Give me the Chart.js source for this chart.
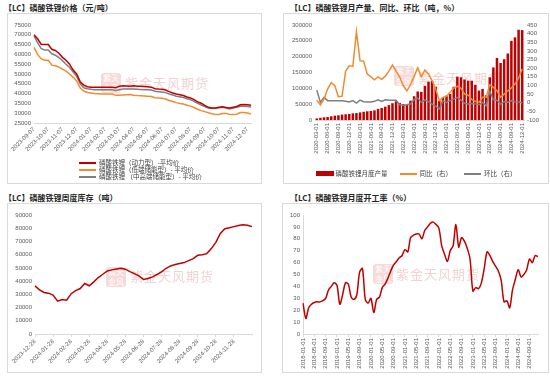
<!DOCTYPE html>
<html>
<head>
<meta charset="utf-8">
<script src="https://cdn.jsdelivr.net/npm/chart.js@4.4.1/dist/chart.umd.min.js"></script>
<style>
  body { margin: 0; width: 550px; height: 376px; background: #fff; position: relative; overflow: hidden;
         font-family: "Noto Sans CJK SC", "Noto Sans", sans-serif; }
  .title { position: absolute; font-size: 8px; font-weight: bold; color: #262626; white-space: nowrap; }
  .box { position: absolute; border: 1px solid #d9d9d9; box-sizing: border-box; }
  .box canvas { position: absolute; left: 0; top: 0; }
  .wm { position: absolute; font-size: 13px; color: #f2d3d3; white-space: nowrap; letter-spacing: 1px; }
  .seal { position: absolute; width: 20px; height: 20px; background: #f6d9d9; color: #fff; font-size: 8px;
          line-height: 10px; text-align: center; border-radius: 3px; }
  .lg { position: absolute; font-size: 6.5px; line-height: 7px; color: #404040; white-space: nowrap; }
  .lg span.ln { display: inline-block; width: 17px; height: 2px; vertical-align: middle; margin-right: 3px; }
  .lg span.bx { display: inline-block; width: 18px; height: 5px; vertical-align: middle; margin-right: 2px; }
  .row { display: flex; align-items: center; height: 7px; }
</style>
</head>
<body>

<div class="title" style="left:4px;top:2px">【LC】磷酸铁锂价格（元/吨）</div>
<div class="title" style="left:290px;top:2px">【LC】磷酸铁锂月产量、同比、环比（吨，%）</div>
<div class="title" style="left:4px;top:192px">【LC】磷酸铁锂周度库存（吨）</div>
<div class="title" style="left:290px;top:192px">【LC】磷酸铁锂月度开工率（%）</div>

<div class="box" style="left:7px;top:13px;width:255px;height:171px">
  <div class="seal" style="left:93px;top:59px">紫天<br>金风</div>
  <div class="wm" style="left:117px;top:59px">紫金天风期货</div>
  <canvas id="c1" width="253" height="169"></canvas>
  <div class="lg" id="lg1" style="left:71px;top:145px"></div>
</div>
<div class="box" style="left:283px;top:13px;width:266px;height:171px">
  <div class="seal" style="left:110px;top:52px">紫天<br>金风</div>
  <div class="wm" style="left:134px;top:54px">紫金天风期货</div>
  <canvas id="c2" width="264" height="169"></canvas>
  <div class="lg" id="lg2" style="left:0;width:264px;top:156px;display:flex;justify-content:center"></div>
</div>
<div class="box" style="left:7px;top:203px;width:255px;height:170px">
  <div class="seal" style="left:98px;top:63px">紫天<br>金风</div>
  <div class="wm" style="left:122px;top:62px">紫金天风期货</div>
  <canvas id="c3" width="253" height="168"></canvas>
</div>
<div class="box" style="left:282px;top:203px;width:267px;height:170px">
  <div class="seal" style="left:90px;top:60px">紫天<br>金风</div>
  <div class="wm" style="left:113px;top:60px">紫金天风期货</div>
  <canvas id="c4" width="265" height="168"></canvas>
</div>

<script>
// ---- 磷酸铁锂价格 (元/吨)
const priceDates = [
  '2023-09-07','2023-09-14','2023-09-21','2023-09-28','2023-10-07','2023-10-14','2023-10-21','2023-10-28',
  '2023-11-07','2023-11-14','2023-11-21','2023-11-28','2023-12-07','2023-12-14','2023-12-21','2023-12-28',
  '2024-01-07','2024-01-14','2024-01-21','2024-01-28','2024-02-07','2024-02-14','2024-02-21','2024-02-28',
  '2024-03-07','2024-03-14','2024-03-21','2024-03-28','2024-04-07','2024-04-14','2024-04-21','2024-04-28',
  '2024-05-07','2024-05-14','2024-05-21','2024-05-28','2024-06-07','2024-06-14','2024-06-21','2024-06-28',
  '2024-07-07','2024-07-14','2024-07-21','2024-07-28','2024-08-07','2024-08-14','2024-08-21','2024-08-28',
  '2024-09-07','2024-09-14','2024-09-21','2024-09-28','2024-10-07','2024-10-14','2024-10-21','2024-10-28',
  '2024-11-07','2024-11-14','2024-11-21','2024-11-28','2024-12-07','2024-12-14'
];
const priceEV = [
  70000,68000,65200,65000,65000,62600,62000,60600,58500,57000,55000,52000,50000,46000,44300,43500,
  43200,43200,43200,43200,43200,43200,43200,43000,43800,44000,43900,43800,44000,43800,43700,43600,
  43500,43300,42500,42300,42200,41800,41000,40300,39800,39400,39000,38300,37800,36900,35800,35100,
  34000,33000,32600,32600,33000,33300,32900,32600,33000,33400,34300,34500,34300,34000
];
const priceESSLow = [
  63600,60000,57800,57000,57000,54500,54200,53500,52500,51500,50000,48300,46500,42800,41300,40600,
  40300,40000,39900,39800,39800,39800,39800,39100,39200,39300,39400,39500,39200,39000,38900,38800,
  38700,38500,37900,37800,37600,37200,36500,36000,35400,35000,34700,34100,33600,32900,32000,31300,
  30800,30200,29700,29400,29300,29800,29900,29400,29300,29500,30300,30400,30100,29600
];
const priceESSMid = [
  69500,66000,63000,62200,62200,60300,59600,58400,56800,55000,53300,51000,48800,45000,43000,42500,
  42200,42000,42000,42000,42000,42000,42000,41600,42000,42300,42300,42300,42300,42200,42100,42000,
  42000,41800,41200,41000,40800,40500,39800,39300,38700,38400,38000,37400,36900,36000,35000,34200,
  33400,32600,32400,32500,32800,33000,32600,32200,32600,33000,33500,33600,33400,33200
];

// ---- 月产量、同比、环比
const prodMonths = [
  '2020-03-01','2020-04-01','2020-05-01','2020-06-01','2020-07-01','2020-08-01','2020-09-01','2020-10-01','2020-11-01','2020-12-01',
  '2021-01-01','2021-02-01','2021-03-01','2021-04-01','2021-05-01','2021-06-01','2021-07-01','2021-08-01','2021-09-01','2021-10-01','2021-11-01','2021-12-01',
  '2022-01-01','2022-02-01','2022-03-01','2022-04-01','2022-05-01','2022-06-01','2022-07-01','2022-08-01','2022-09-01','2022-10-01','2022-11-01','2022-12-01',
  '2023-01-01','2023-02-01','2023-03-01','2023-04-01','2023-05-01','2023-06-01','2023-07-01','2023-08-01','2023-09-01','2023-10-01','2023-11-01','2023-12-01',
  '2024-01-01','2024-02-01','2024-03-01','2024-04-01','2024-05-01','2024-06-01','2024-07-01','2024-08-01','2024-09-01','2024-10-01','2024-11-01','2024-12-01'
];
const prodTons = [
  5000,7000,8500,9500,11500,13700,15000,17000,18000,19000,
  21000,22000,24000,26000,27500,28500,30500,35000,38000,42000,47000,53000,
  59000,54000,50000,48000,61000,75000,90000,89000,108000,121000,124000,105000,
  61000,72000,77000,82000,105000,137000,135000,128000,124000,124000,111000,93000,
  98000,78000,135000,166000,196000,180000,192000,210000,250000,261000,285000,284000
];
const prodYoY = [
  15,-13,21,79,116,98,35,37,183,214,
  210,411,243,241,166,151,133,149,135,154,183,218,
  183,149,98,69,104,151,203,151,189,166,127,79,
  12,31,37,60,85,95,85,50,44,19,8,2,
  31,31,104,89,69,31,50,69,85,108,143,195
];
const prodMoM = [
  73,2,31,12,12,12,12,12,8,4,
  12,-2,15,6,4,4,8,17,8,17,15,15,
  15,-12,-15,-12,-8,19,27,2,15,6,-8,-19,
  -37,12,2,12,21,31,15,-4,-8,-4,-8,-12,
  2,-17,66,17,15,-8,6,2,12,6,4,0
];

// ---- 周度库存 (吨)
const stockDates = [
  '2023-12-28','2024-01-05','2024-01-12','2024-01-19','2024-01-28','2024-02-05','2024-02-12','2024-02-19',
  '2024-02-28','2024-03-05','2024-03-12','2024-03-19','2024-03-28','2024-04-05','2024-04-12','2024-04-19',
  '2024-04-28','2024-05-05','2024-05-12','2024-05-19','2024-05-28','2024-06-05','2024-06-12','2024-06-19',
  '2024-06-28','2024-07-05','2024-07-12','2024-07-19','2024-07-28','2024-08-05','2024-08-12','2024-08-19',
  '2024-08-28','2024-09-05','2024-09-12','2024-09-19','2024-09-28','2024-10-05','2024-10-12','2024-10-19',
  '2024-10-28','2024-11-05','2024-11-12','2024-11-19','2024-11-28','2024-12-05','2024-12-12','2024-12-19',
  '2024-12-24'
];
const stockTons = [
  36400,33400,31400,30900,29400,24800,26000,25600,30500,32800,34400,38200,36500,39400,42700,45200,
  47700,48500,49200,49700,49000,47200,45700,44000,41300,42000,43200,45000,47000,49700,51500,52500,
  53300,54000,55500,57000,59500,60000,60800,64600,69300,76000,79600,80300,81200,82000,82600,82300,
  81200
];

// ---- 月度开工率 (%)
const rateMonths = [];
for (let y = 2018; y <= 2024; y++) for (let m = 1; m <= 12; m++) rateMonths.push(y + '-' + String(m).padStart(2, '0') + '-01');
const ratePct = [
  26,13,22,25,26.5,27,27,28,30,37,40,43,
  41,25,33,43,42,31,29,33,52,55,29,26,
  30,18,29,31,39,42,47,53,58,61,64,66,
  71,69,81,83,84,84,80,87,90,93,94,92,
  89,74,67,61,70,74,92,73,81,78,72,63,
  36,39,38,43,55,69,66,61,57,53,45,27,
  28,22,37,46,54,48,50,54,63,60,66,65
];

const tickFont = { family: 'Liberation Sans, Arial, sans-serif', size: 6 };
const tickColor = '#595959';
const noTip = { legend: { display: false }, tooltip: { enabled: false } };

function yAxis(min, max, step, width, extra) {
  return Object.assign({
    min, max,
    ticks: { stepSize: step, autoSkip: false, font: tickFont, color: tickColor, padding: 3, callback: v => String(v) },
    grid: { display: false, drawTicks: false },
    border: { display: false },
    afterFit(s) { s.width = width; }
  }, extra || {});
}

// price chart
const c1 = new Chart(document.getElementById('c1'), {
  type: 'line',
  data: {
    labels: priceDates,
    datasets: [
      { label: '磷酸铁锂（动力型）-平均价', data: priceEV, borderColor: '#C00000', borderWidth: 1.5, pointRadius: 0 },
      { label: '磷酸铁锂（低端储能型）- 平均价', data: priceESSLow, borderColor: '#F28A30', borderWidth: 1.5, pointRadius: 0 },
      { label: '磷酸铁锂 （中高端储能型）- 平均价', data: priceESSMid, borderColor: '#7F7F7F', borderWidth: 1.5, pointRadius: 0 }
    ]
  },
  options: {
    responsive: false, animation: false,
    layout: { padding: { top: 11, right: 10 } },
    plugins: noTip,
    scales: {
      x: {
        grid: { display: false, drawTicks: false }, border: { color: '#d9d9d9' },
        ticks: { autoSkip: false, minRotation: 45, maxRotation: 45, font: tickFont, color: tickColor, padding: 3,
          callback(v) { const l = this.getLabelForValue(v); return l.endsWith('-07') ? l : ''; } },
        afterFit(s) { s.height = 60; }
      },
      y: yAxis(25000, 75000, 5000, 26)
    }
  }
});
document.getElementById('lg1').innerHTML = c1.data.datasets.map(d =>
  `<div class="row"><span class="ln" style="background:${d.borderColor}"></span>${d.label}</div>`).join('');

// production chart
const c2 = new Chart(document.getElementById('c2'), {
  type: 'bar',
  data: {
    labels: prodMonths,
    datasets: [
      { type: 'line', label: '同比（右）', data: prodYoY, yAxisID: 'y2', borderColor: '#F28A30', borderWidth: 1.5, pointRadius: 0, order: 0 },
      { type: 'line', label: '环比（右）', data: prodMoM, yAxisID: 'y2', borderColor: '#7F7F7F', borderWidth: 1.5, pointRadius: 0, order: 1 },
      { type: 'bar', label: '磷酸铁锂月度产量', data: prodTons, yAxisID: 'y', backgroundColor: '#C00000',
        barPercentage: 0.7, categoryPercentage: 1, order: 2 }
    ]
  },
  options: {
    responsive: false, animation: false,
    layout: { padding: { top: 11 } },
    plugins: noTip,
    scales: {
      x: {
        grid: { display: false, drawTicks: false }, border: { color: '#d9d9d9' },
        ticks: { autoSkip: false, minRotation: 90, maxRotation: 90, font: tickFont, color: tickColor, padding: 3,
          callback(v, i) { return i % 3 === 0 ? this.getLabelForValue(v) : ''; } },
        afterFit(s) { s.height = 169 - 11 - 95; }
      },
      y: yAxis(0, 300000, 50000, 31),
      y2: yAxis(-100, 450, 50, 24, { position: 'right' })
    }
  }
});
document.getElementById('lg2').innerHTML = [2, 0, 1].map(i => {
  const d = c2.data.datasets[i];
  const sw = d.type === 'bar'
    ? `<span class="bx" style="background:${d.backgroundColor}"></span>`
    : `<span class="ln" style="background:${d.borderColor}"></span>`;
  return `<span style="margin:0 6px;display:flex;align-items:center">${sw}${d.label}</span>`;
}).join('');

// inventory chart
new Chart(document.getElementById('c3'), {
  type: 'line',
  data: {
    labels: stockDates,
    datasets: [{ label: '周度库存', data: stockTons, borderColor: '#C00000', borderWidth: 1.5, pointRadius: 0 }]
  },
  options: {
    responsive: false, animation: false,
    layout: { padding: { top: 11, right: 9 } },
    plugins: noTip,
    scales: {
      x: {
        grid: { drawOnChartArea: false, tickLength: 3,
          color: ctx => (stockDates[ctx.index] || '').endsWith('-28') ? '#d9d9d9' : 'rgba(0,0,0,0)' },
        border: { color: '#d9d9d9' },
        ticks: { autoSkip: false, minRotation: 45, maxRotation: 45, font: tickFont, color: tickColor, padding: 1,
          callback(v) { const l = this.getLabelForValue(v); return l.endsWith('-28') ? l : ''; } },
        afterFit(s) { s.height = 168 - 11 - 119; }
      },
      y: yAxis(0, 90000, 10000, 27)
    }
  }
});

// operating rate chart
new Chart(document.getElementById('c4'), {
  type: 'line',
  data: {
    labels: rateMonths,
    datasets: [{ label: '月度开工率', data: ratePct, borderColor: '#C00000', borderWidth: 1.5, pointRadius: 0, tension: 0.3 }]
  },
  options: {
    responsive: false, animation: false,
    layout: { padding: { top: 11, right: 10 } },
    plugins: noTip,
    scales: {
      x: {
        grid: { drawOnChartArea: false, tickLength: 3,
          color: ctx => ctx.index % 4 === 0 ? '#d9d9d9' : 'rgba(0,0,0,0)' },
        border: { color: '#d9d9d9' },
        ticks: { autoSkip: false, minRotation: 90, maxRotation: 90, font: tickFont, color: tickColor, padding: 1,
          callback(v, i) { return i % 4 === 0 ? this.getLabelForValue(v) : ''; } },
        afterFit(s) { s.height = 168 - 11 - 119; }
      },
      y: yAxis(0, 100, 10, 20, { border: { display: true, color: '#d9d9d9' } })
    }
  }
});
</script>
</body>
</html>
